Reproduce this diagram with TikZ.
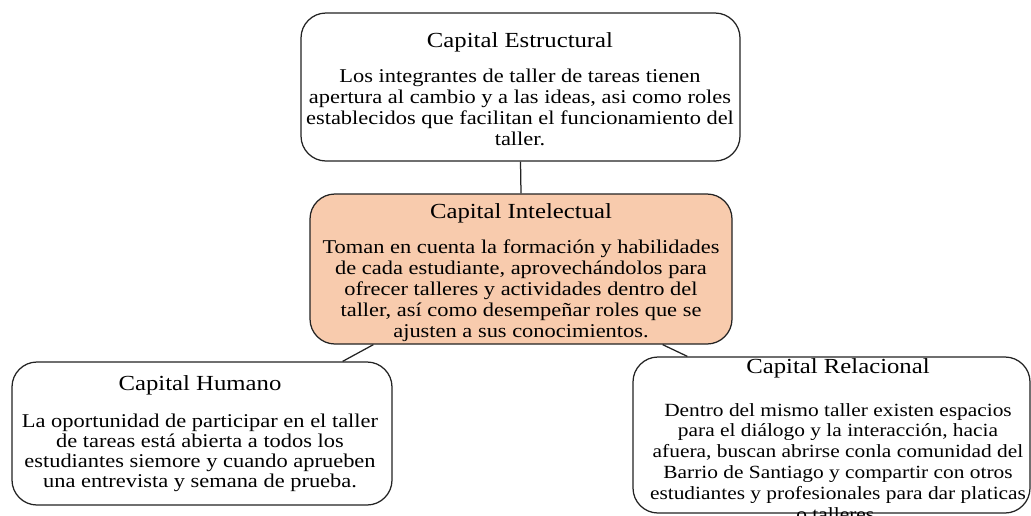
\documentclass[tikz,border=0pt]{standalone}
\usepackage{fontspec}
\setmainfont{Liberation Serif}[FakeStretch=1.15]
\usetikzlibrary{calc}
\definecolor{peach}{RGB}{248,203,173}
\definecolor{edgecol}{RGB}{35,35,35}
\newcommand\bodytext[2][21]{\fontsize{19.5}{#1}\selectfont\begin{tabular}[t]{@{}c@{}}#2\end{tabular}}
\newcommand\relbodytext[1]{\fontsize{18.6}{20.8}\selectfont\begin{tabular}[t]{@{}c@{}}#1\end{tabular}}
\tikzset{
  capbox/.style={draw=edgecol, line width=1.25pt, rounded corners=25pt, inner sep=0pt},
  captitle/.style={anchor=base, inner sep=0pt, font=\fontsize{21.5}{24}\selectfont},
  capbody/.style={anchor=base, inner sep=0pt},
  link/.style={draw=edgecol, line width=1.25pt}
}
\begin{document}
\begin{tikzpicture}[x=1pt,y=-1pt]
\useasboundingbox (0,0) rectangle (1031,515);
\clip (0,0) rectangle (1031,515);
\fill[white] (0,0) rectangle (1031,515);
% boxes
\node[capbox, minimum width=439pt, minimum height=148pt] (est) at (520.5,87) {};
\node[capbox, fill=peach, minimum width=422pt, minimum height=150pt] (int) at (521,269) {};
\node[capbox, minimum width=380pt, minimum height=143pt] (hum) at (202,433.5) {};
\node[capbox, minimum width=397pt, minimum height=156pt] (rel) at (831.5,435) {};
% connectors
\draw[link] (est.south) -- (int.north);
\draw[link] ($(int.south west)+(64,0)$) -- ($(hum.north east)+(-50,0)$);
\draw[link] ($(int.south east)+(-70,0)$) -- ($(rel.north west)+(55,0)$);
% texts
\node[captitle] (est-t) at (520,47) {Capital Estructural};
\node[capbody] (est-b) at (520,82) {\bodytext{Los integrantes de taller de tareas tienen\\apertura al cambio y a las ideas, asi como roles\\establecidos que facilitan el funcionamiento del\\taller.}};
\node[captitle] (int-t) at (521,218) {Capital Intelectual};
\node[capbody] (int-b) at (521,253) {\bodytext{Toman en cuenta la formación y habilidades\\de cada estudiante, aprovechándolos para\\ofrecer talleres y actividades dentro del\\taller, así como desempeñar roles que se\\ajusten a sus conocimientos.}};
\node[captitle] (hum-t) at (200,390) {Capital Humano};
\node[capbody] (hum-b) at (200,427) {\bodytext[20.3]{La oportunidad de participar en el taller\\de tareas está abierta a todos los\\estudiantes siemore y cuando aprueben\\una entrevista y semana de prueba.}};
\node[captitle] (rel-t) at (838,373) {Capital Relacional};
\node[capbody] (rel-b) at (838,416) {\relbodytext{Dentro del mismo taller existen espacios\\para el diálogo y la interacción, hacia\\afuera, buscan abrirse conla comunidad del\\Barrio de Santiago y compartir con otros\\estudiantes y profesionales para dar platicas\\o talleres.}};
\end{tikzpicture}
\end{document}
